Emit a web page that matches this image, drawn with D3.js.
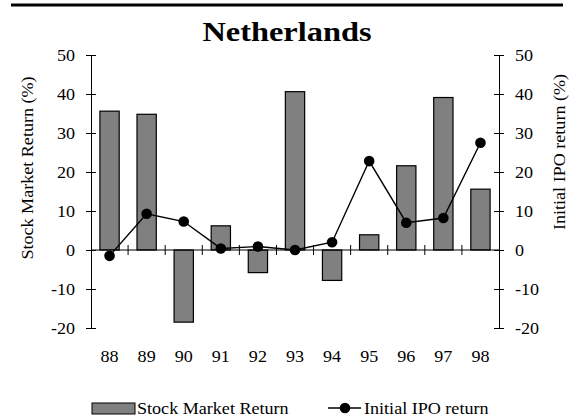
<!DOCTYPE html>
<html>
<head>
<meta charset="utf-8">
<script src="https://cdn.jsdelivr.net/npm/d3@7"></script>
<style>
  body { margin: 0; background: #fff; }
  svg text { font-family: "Liberation Serif", "Times New Roman", serif; fill: #000; }
</style>
</head>
<body>
<div id="chart"></div>
<script>
const years = ['88', '89', '90', '91', '92', '93', '94', '95', '96', '97', '98'];
const stockReturn = [35.6, 34.8, -18.5, 6.2, -5.8, 40.6, -7.8, 3.9, 21.6, 39.1, 15.6];
const ipoReturn = [-1.5, 9.3, 7.3, 0.4, 0.9, 0, 2.0, 22.8, 7.0, 8.2, 27.5];
const yTicks = [-20, -10, 0, 10, 20, 30, 40, 50];

const width = 570;
const height = 416;
const margin = { top: 55, right: 71, bottom: 88, left: 91 };
const fontSize = 16;
const stretch = 1.13; // the original text is drawn a bit wide

const svg = d3
  .select('#chart')
  .append('svg')
  .attr('width', width)
  .attr('height', height);

// top rule
svg
  .append('line')
  .attr('x1', 11)
  .attr('x2', 563)
  .attr('y1', 5)
  .attr('y2', 5)
  .attr('stroke', '#000')
  .attr('stroke-width', 3);

svg
  .append('text')
  .attr('x', 287)
  .attr('y', 41)
  .attr('text-anchor', 'middle')
  .attr('font-size', 27)
  .attr('font-weight', 'bold')
  .attr('data-stretch', 1.2)
  .text('Netherlands');

const x = d3
  .scaleBand()
  .domain(years)
  .range([margin.left, width - margin.right])
  .paddingInner(0)
  .paddingOuter(0);

const y = d3
  .scaleLinear()
  .domain([-20, 50])
  .range([height - margin.bottom, margin.top]);

const y2 = d3
  .scaleLinear()
  .domain([-20, 50])
  .range([height - margin.bottom, margin.top]);

// bars
const barW = x.bandwidth() * 0.52;
svg
  .append('g')
  .selectAll('rect')
  .data(stockReturn)
  .enter()
  .append('rect')
  .attr('x', (d, i) => x(years[i]) + (x.bandwidth() - barW) / 2)
  .attr('y', d => y(Math.max(0, d)))
  .attr('width', barW)
  .attr('height', d => Math.abs(y(d) - y(0)))
  .attr('fill', '#808080')
  .attr('stroke', '#000')
  .attr('stroke-width', 1.2);

// left axis
const leftAxis = d3
  .axisLeft(y)
  .tickValues(yTicks)
  .tickFormat(d => String(d))
  .tickSizeInner(5)
  .tickSizeOuter(0)
  .tickPadding(11);
const gl = svg
  .append('g')
  .attr('transform', `translate(${margin.left},0)`)
  .call(leftAxis);
gl.selectAll('.tick line').attr('x2', 5).attr('x1', -5);

// right axis
const rightAxis = d3
  .axisRight(y2)
  .tickValues(yTicks)
  .tickFormat(d => String(d))
  .tickSizeInner(5)
  .tickSizeOuter(0)
  .tickPadding(11);
const gr = svg
  .append('g')
  .attr('transform', `translate(${width - margin.right},0)`)
  .call(rightAxis);
gr.selectAll('.tick line').attr('x2', 5).attr('x1', -5);

[gl, gr].forEach(g => {
  g.select('.domain').attr('stroke', '#000').attr('stroke-width', 1);
  g.selectAll('.tick line').attr('stroke', '#000');
  g.selectAll('.tick text')
    .attr('font-size', fontSize)
    .attr('font-family', '"Liberation Serif", serif');
});

// zero line with category ticks
const zero = svg.append('g');
zero
  .append('line')
  .attr('x1', margin.left)
  .attr('x2', width - margin.right)
  .attr('y1', y(0))
  .attr('y2', y(0))
  .attr('stroke', '#000');
zero
  .selectAll('.cat-tick')
  .data(years.slice(1))
  .enter()
  .append('line')
  .attr('x1', d => x(d))
  .attr('x2', d => x(d))
  .attr('y1', y(0) - 5)
  .attr('y2', y(0) + 5)
  .attr('stroke', '#000');

// category labels
svg
  .append('g')
  .selectAll('text')
  .data(years)
  .enter()
  .append('text')
  .attr('x', d => x(d) + x.bandwidth() / 2)
  .attr('y', 362)
  .attr('text-anchor', 'middle')
  .attr('font-size', fontSize)
  .text(d => d);

// IPO line
const line = d3
  .line()
  .x((d, i) => x(years[i]) + x.bandwidth() / 2)
  .y(d => y2(d));

svg
  .append('path')
  .datum(ipoReturn)
  .attr('d', line)
  .attr('fill', 'none')
  .attr('stroke', '#000')
  .attr('stroke-width', 1.4);

svg
  .append('g')
  .selectAll('circle')
  .data(ipoReturn)
  .enter()
  .append('circle')
  .attr('cx', (d, i) => x(years[i]) + x.bandwidth() / 2)
  .attr('cy', d => y2(d))
  .attr('r', 5.3)
  .attr('fill', '#000');

// axis titles
svg
  .append('text')
  .attr('transform', 'translate(33,168) rotate(-90)')
  .attr('text-anchor', 'middle')
  .attr('font-size', fontSize)
  .text('Stock Market Return (%)');

svg
  .append('text')
  .attr('transform', 'translate(565,152) rotate(-90)')
  .attr('text-anchor', 'middle')
  .attr('font-size', fontSize)
  .text('Initial IPO return (%)');

// legend
const legend = svg.append('g');
legend
  .append('rect')
  .attr('x', 92)
  .attr('y', 403)
  .attr('width', 43)
  .attr('height', 11)
  .attr('fill', '#808080')
  .attr('stroke', '#000')
  .attr('stroke-width', 1);
legend
  .append('text')
  .attr('x', 137)
  .attr('y', 414)
  .attr('font-size', fontSize)
  .text('Stock Market Return');
legend
  .append('line')
  .attr('x1', 328)
  .attr('x2', 361)
  .attr('y1', 408)
  .attr('y2', 408)
  .attr('stroke', '#000')
  .attr('stroke-width', 1.4);
legend
  .append('circle')
  .attr('cx', 345)
  .attr('cy', 408)
  .attr('r', 5.3)
  .attr('fill', '#000');
legend
  .append('text')
  .attr('x', 364)
  .attr('y', 414)
  .attr('font-size', fontSize)
  .text('Initial IPO return');

// widen every label to match the source's wide lettering
svg.selectAll('text').each(function() {
  const s = +this.getAttribute('data-stretch') || stretch;
  const len = this.getComputedTextLength();
  d3.select(this)
    .attr('textLength', len * s)
    .attr('lengthAdjust', 'spacingAndGlyphs');
});
</script>
</body>
</html>
